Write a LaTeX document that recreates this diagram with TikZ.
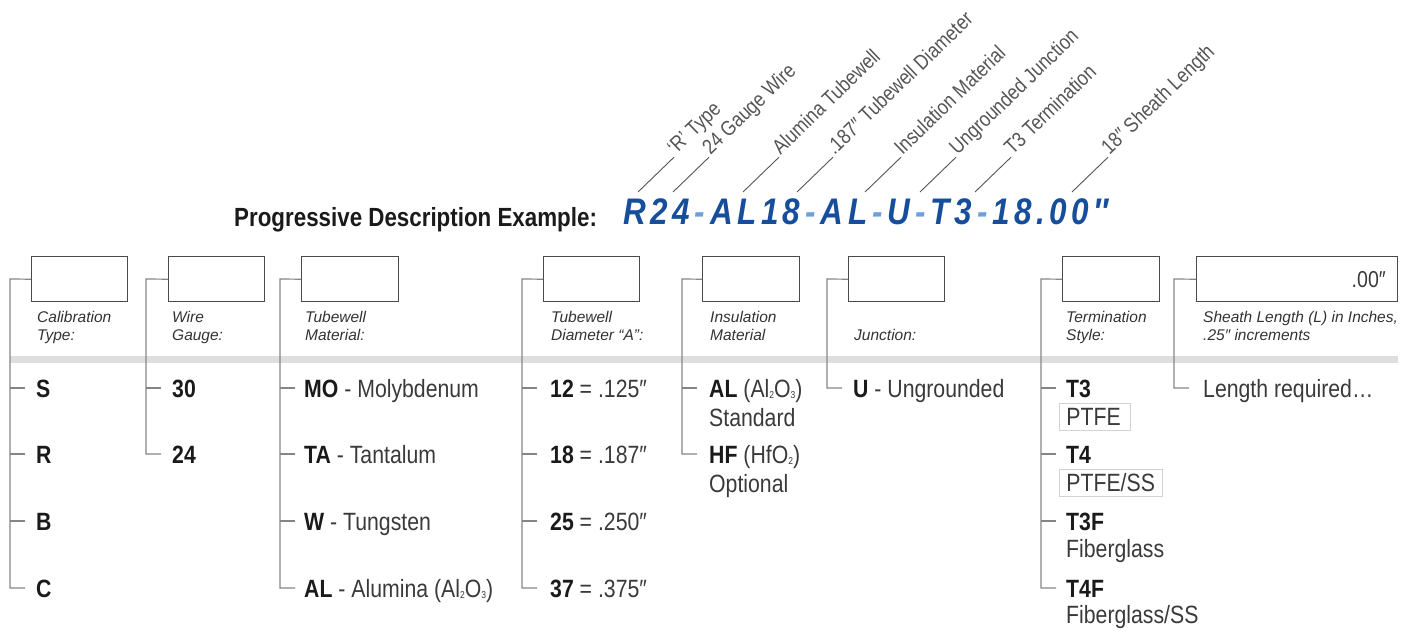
\documentclass[tikz,border=0pt]{standalone}
\usepackage{fontspec}
\setmainfont{Liberation Sans}[FakeStretch=0.85]
\newfontfamily\labfont{Liberation Sans}
\newfontfamily\codefont{Liberation Sans}[FakeStretch=0.85,LetterSpace=12]
\definecolor{boxc}{HTML}{4A4A4A}
\definecolor{linec}{HTML}{858585}
\definecolor{bandc}{HTML}{DEDEDE}
\definecolor{itemc}{HTML}{1A1A1A}
\definecolor{textc}{HTML}{3A3A3A}
\definecolor{hdc}{HTML}{333333}
\definecolor{leadc}{HTML}{555555}
\definecolor{ptc}{HTML}{D2D2D2}
\definecolor{codeblue}{RGB}{22,78,155}
\definecolor{codelight}{RGB}{110,160,215}
\newcommand\cdash{\kern5pt{\color{codelight}-}\kern5pt}
\newcommand\chsub[1]{\raisebox{-1.5pt}{\fontsize{10}{10}\selectfont #1}}
\begin{document}
\begin{tikzpicture}[x=1pt,y=-1pt,
  inbox/.style={draw=boxc,line width=1.4pt,minimum height=45pt,inner sep=0pt,anchor=north west},
  br/.style={draw=linec,line width=1.2pt},
  item/.style={anchor=base west,inner sep=0pt,text=textc,text height=18pt,text depth=0pt,font=\fontsize{25}{30}\selectfont},
  hd/.style={anchor=base west,inner sep=0pt,text=hdc,font=\labfont\itshape\fontsize{15.5}{17}\selectfont},
  lab/.style={anchor=base west,inner sep=0pt,inner xsep=2pt,rotate=44,text=leadc,font=\fontsize{21}{24}\selectfont},
  lead/.style={draw=leadc,line width=0.9pt},
  ptbox/.style={draw=ptc,line width=0.8pt,anchor=north west,minimum height=27pt,inner ysep=0pt,inner xsep=7pt,align=left,text height=18pt,text depth=0pt,text=textc,font=\fontsize{25}{30}\selectfont}
]
\useasboundingbox (0,0) rectangle (1414,633);

% ---------- title and example code ----------
\node[anchor=base west,inner sep=0pt,text=itemc,font=\bfseries\fontsize{26.3}{30}\selectfont] (title) at (234,226) {Progressive Description Example:};
\node[anchor=base west,inner sep=0pt,text=codeblue,font=\codefont\bfseries\itshape\fontsize{37}{40}\selectfont] (code) at (623,224) {R24\cdash AL18\cdash AL\cdash U\cdash T3\cdash 18.00″};

% leader lines and rotated labels
\coordinate (l1) at (638,192);
\coordinate (l2) at (673,192);
\coordinate (l3) at (743,192);
\coordinate (l4) at (797,192);
\coordinate (l5) at (865,192);
\coordinate (l6) at (920,192);
\coordinate (l7) at (975,192);
\coordinate (l8) at (1072,192);
\node[lab] (t1) at ([shift={(36,-34.8)}]l1) {‘R’ Type};
\node[lab] (t2) at ([shift={(36,-34.8)}]l2) {24 Gauge Wire};
\node[lab] (t3) at ([shift={(36,-34.8)}]l3) {Alumina Tubewell};
\node[lab] (t4) at ([shift={(36,-34.8)}]l4) {.187″ Tubewell Diameter};
\node[lab] (t5) at ([shift={(36,-34.8)}]l5) {Insulation Material};
\node[lab] (t6) at ([shift={(36,-34.8)}]l6) {Ungrounded Junction};
\node[lab] (t7) at ([shift={(36,-34.8)}]l7) {T3 Termination};
\node[lab] (t8) at ([shift={(36,-34.8)}]l8) {18″ Sheath Length};
\foreach \i in {1,...,8} { \draw[lead] (l\i) -- (t\i.base west); }

% ---------- gray band ----------
\fill[bandc] (10,356) rectangle (1398,363);

% ---------- input boxes ----------
\node[inbox,minimum width=96pt] (b1) at (31,256) {};
\node[inbox,minimum width=96pt] (b2) at (168,256) {};
\node[inbox,minimum width=97pt] (b3) at (301,256) {};
\node[inbox,minimum width=96pt] (b4) at (543,256) {};
\node[inbox,minimum width=97pt] (b5) at (702,256) {};
\node[inbox,minimum width=96pt] (b6) at (848,256) {};
\node[inbox,minimum width=97pt] (b7) at (1062,256) {};
\node[inbox,minimum width=201pt] (b8) at (1196,256) {};
\node[anchor=base east,inner sep=0pt,text=textc,font=\fontsize{23}{26}\selectfont] (len) at (1386,287) {.00″};

% ---------- header labels ----------
\node[hd] (h1a) at (37,322) {Calibration};
\node[hd] (h1b) at (37,340) {Type:};
\node[hd] (h2a) at (172,322) {Wire};
\node[hd] (h2b) at (172,340) {Gauge:};
\node[hd] (h3a) at (305,322) {Tubewell};
\node[hd] (h3b) at (305,340) {Material:};
\node[hd] (h4a) at (551,322) {Tubewell};
\node[hd] (h4b) at (551,340) {Diameter “A”:};
\node[hd] (h5a) at (710,322) {Insulation};
\node[hd] (h5b) at (710,340) {Material};
\node[hd] (h6b) at (854,340) {Junction:};
\node[hd] (h7a) at (1066,322) {Termination};
\node[hd] (h7b) at (1066,340) {Style:};
\node[hd] (h8a) at (1203,322) {Sheath Length (L) in Inches,};
\node[hd] (h8b) at (1203,340) {.25″ increments};

% ---------- column 1 ----------
\coordinate (v1) at (10,279);
\node[item,text=itemc] (c1a) at (36,397) {\textbf{S}};
\node[item,text=itemc] (c1b) at (36,463) {\textbf{R}};
\node[item,text=itemc] (c1c) at (36,530) {\textbf{B}};
\node[item,text=itemc] (c1d) at (36,597) {\textbf{C}};
\draw[br] (b1.west) -- (v1) |- ([xshift=15pt]v1 |- c1d.west);
\foreach \n in {c1a,c1b,c1c} { \draw[br] (v1 |- \n.west) -- ++(15,0); }

% ---------- column 2 ----------
\coordinate (v2) at (146,279);
\node[item,text=itemc] (c2a) at (172,397) {\textbf{30}};
\node[item,text=itemc] (c2b) at (172,463) {\textbf{24}};
\draw[br] (b2.west) -- (v2) |- ([xshift=15pt]v2 |- c2b.west);
\draw[br] (v2 |- c2a.west) -- ++(15,0);

% ---------- column 3 ----------
\coordinate (v3) at (280,279);
\node[item] (c3a) at (304,397) {\textcolor{itemc}{\textbf{MO}} - Molybdenum};
\node[item] (c3b) at (304,463) {\textcolor{itemc}{\textbf{TA}} - Tantalum};
\node[item] (c3c) at (304,530) {\textcolor{itemc}{\textbf{W}} - Tungsten};
\node[item] (c3d) at (304,597) {\textcolor{itemc}{\textbf{AL}} - Alumina (Al\chsub{2}O\chsub{3})};
\draw[br] (b3.west) -- (v3) |- ([xshift=15pt]v3 |- c3d.west);
\foreach \n in {c3a,c3b,c3c} { \draw[br] (v3 |- \n.west) -- ++(15,0); }

% ---------- column 4 ----------
\coordinate (v4) at (522,279);
\node[item] (c4a) at (550,397) {\textcolor{itemc}{\textbf{12}} = .125″};
\node[item] (c4b) at (550,463) {\textcolor{itemc}{\textbf{18}} = .187″};
\node[item] (c4c) at (550,530) {\textcolor{itemc}{\textbf{25}} = .250″};
\node[item] (c4d) at (550,597) {\textcolor{itemc}{\textbf{37}} = .375″};
\draw[br] (b4.west) -- (v4) |- ([xshift=15pt]v4 |- c4d.west);
\foreach \n in {c4a,c4b,c4c} { \draw[br] (v4 |- \n.west) -- ++(15,0); }

% ---------- column 5 ----------
\coordinate (v5) at (682,279);
\node[item] (c5a) at (709,397) {\textcolor{itemc}{\textbf{AL}} (Al\chsub{2}O\chsub{3})};
\node[item] (c5a2) at (709,426) {Standard};
\node[item] (c5b) at (709,463) {\textcolor{itemc}{\textbf{HF}} (HfO\chsub{2})};
\node[item] (c5b2) at (709,492) {Optional};
\draw[br] (b5.west) -- (v5) |- ([xshift=15pt]v5 |- c5b.west);
\draw[br] (v5 |- c5a.west) -- ++(15,0);

% ---------- column 6 ----------
\coordinate (v6) at (827,279);
\node[item] (c6a) at (853,397) {\textcolor{itemc}{\textbf{U}} - Ungrounded};
\draw[br] (b6.west) -- (v6) |- ([xshift=15pt]v6 |- c6a.west);

% ---------- column 7 ----------
\coordinate (v7) at (1041,279);
\node[item,text=itemc] (c7a) at (1066,397) {\textbf{T3}};
\node[ptbox,text width=57pt] (c7a2) at (1059,403) {PTFE};
\node[item,text=itemc] (c7b) at (1066,463) {\textbf{T4}};
\node[ptbox,text width=89pt] (c7b2) at (1059,469) {PTFE/SS};
\node[item,text=itemc] (c7c) at (1066,530) {\textbf{T3F}};
\node[item] (c7c2) at (1066,557) {Fiberglass};
\node[item,text=itemc] (c7d) at (1066,597) {\textbf{T4F}};
\node[item] (c7d2) at (1066,623) {Fiberglass/SS};
\draw[br] (b7.west) -- (v7) |- ([xshift=15pt]v7 |- c7d.west);
\foreach \n in {c7a,c7b,c7c} { \draw[br] (v7 |- \n.west) -- ++(15,0); }

% ---------- column 8 ----------
\coordinate (v8) at (1174,279);
\node[item] (c8a) at (1203,397) {Length required\dots};
\draw[br] (b8.west) -- (v8) |- ([xshift=15pt]v8 |- c8a.west);
\end{tikzpicture}
\end{document}
